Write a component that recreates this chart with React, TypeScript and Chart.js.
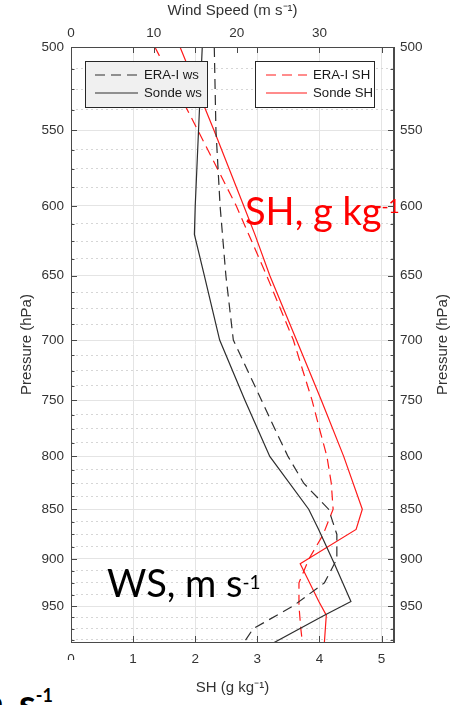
import React, { useEffect, useRef } from 'react';
import { Chart, registerables } from 'chart.js';

Chart.register(...registerables);

// ---- data ----
const eraPressure = [500, 550, 600, 650, 700, 750, 775, 800, 825, 850, 875, 900, 925, 950, 975, 1000];
const eraWS = [17.3, 17.5, 18.0, 18.7, 19.6, 23.0, 24.6, 26.2, 28.1, 31.1, 32.1, 32.1, 30.6, 26.8, 22.0, 20.2];
const eraSH = [1.35, 2.04, 2.66, 3.15, 3.58, 3.88, 4.0, 4.12, 4.19, 4.22, 4.06, 3.83, 3.67, 3.67, 3.7, 3.74];

const sondePressure = [500, 550, 600, 620, 650, 700, 750, 800, 850, 870, 905, 945, 960, 1000];
const sondeWS = [15.85, 15.4, 15.0, 14.9, 16.1, 17.95, 21.0, 24.0, 28.7, 29.9, 31.8, 33.8, 30.6, 22.7];
const sondeSH = [1.755, 2.3, 2.78, 2.96, 3.2, 3.63, 4.03, 4.39, 4.69, 4.59, 3.69, 3.99, 4.11, 4.07];

// ---- axes ----
const shTicks = [0, 1, 2, 3, 4, 5];
const wsTicks = [0, 10, 20, 30];
const pressureTicks = [500, 550, 600, 650, 700, 750, 800, 850, 900, 950];
const pressureMinorStep = 12.5;
const pressureRange = [500, 990];
const shRange = [0, 5.2];
const wsRange = [0, 39];

const FONT = "'Liberation Sans', Arial, Helvetica, sans-serif";
const axisColor = '#4a4a4a';
const labelColor = '#333333';
const gridColor = '#e4e4e4';
const minorGridColor = '#d6d6d6';
const black = '#2e2e2e';
const red = '#ff1a1a';
const dash = [10, 6];

const minorTicks: number[] = [];
for (let p = pressureRange[0]; p < pressureRange[1]; p += pressureMinorStep) {
  if (p % 50 !== 0) minorTicks.push(p);
}

const toPts = (xs: number[], ps: number[]) => xs.map((x, i) => ({ x, y: ps[i] }));

const decorPlugin = {
  id: 'decor',
  afterDraw(chart: any) {
    const { ctx, chartArea } = chart;
    const { left, right, top, bottom } = chartArea;
    const ys = chart.scales.y;
    const xs = chart.scales.x;
    const x2 = chart.scales.x2;
    ctx.save();
    ctx.strokeStyle = axisColor;
    ctx.lineWidth = 1;
    ctx.beginPath();
    const hl = (x1: number, y: number, x2p: number) => {
      const yy = Math.round(y) + 0.5;
      ctx.moveTo(x1, yy);
      ctx.lineTo(x2p, yy);
    };
    const vl = (x: number, y1: number, y2: number) => {
      const xx = Math.round(x) + 0.5;
      ctx.moveTo(xx, y1);
      ctx.lineTo(xx, y2);
    };
    pressureTicks.forEach((p) => {
      const py = ys.getPixelForValue(p);
      hl(left, py, left + 6);
      hl(right - 6, py, right);
    });
    minorTicks.forEach((p) => {
      const py = ys.getPixelForValue(p);
      hl(left, py, left + 3.5);
      hl(right - 3.5, py, right);
    });
    shTicks.forEach((v) => {
      const px = xs.getPixelForValue(v);
      vl(px, bottom, bottom - 6);
      vl(px, top, top + 6);
    });
    wsTicks.forEach((v) => {
      const px = x2.getPixelForValue(v);
      vl(px, top, top + 6);
    });
    ctx.stroke();
    ctx.strokeRect(Math.round(left) + 0.5, Math.round(top) + 0.5, Math.round(right - left) - 1, Math.round(bottom - top));

    // right axis title (reads bottom to top, like the left one)
    ctx.fillStyle = labelColor;
    ctx.font = `15px ${FONT}`;
    ctx.textAlign = 'center';
    ctx.textBaseline = 'middle';
    ctx.translate(443, (top + bottom) / 2);
    ctx.rotate(-Math.PI / 2);
    ctx.fillText('Pressure (hPa)', 0, 0);
    ctx.restore();

    // legends
    const ds = chart.data.datasets;
    const drawLegend = (bx: number, by: number, bw: number, bh: number, fill: string, items: any[], lx1: number, lx2: number, tx: number) => {
      ctx.save();
      ctx.fillStyle = fill;
      ctx.fillRect(bx, by, bw, bh);
      ctx.strokeStyle = '#262626';
      ctx.lineWidth = 1;
      ctx.strokeRect(Math.round(bx) + 0.5, Math.round(by) + 0.5, bw, bh);
      items.forEach((d: any, i: number) => {
        const ey = by + 14 + i * 18;
        ctx.strokeStyle = d.borderColor;
        ctx.lineWidth = 1.2;
        ctx.setLineDash(d.borderDash || []);
        ctx.beginPath();
        ctx.moveTo(bx + lx1, ey);
        ctx.lineTo(bx + lx2, ey);
        ctx.stroke();
        ctx.setLineDash([]);
        ctx.fillStyle = '#1a1a1a';
        ctx.font = `13.2px ${FONT}`;
        ctx.textAlign = 'left';
        ctx.textBaseline = 'middle';
        ctx.fillText(d.label, bx + tx, ey + 0.5);
      });
      ctx.restore();
    };
    drawLegend(left + 14, top + 14, 122, 46, '#f0f0f0', [ds[0], ds[1]], 10, 53, 59);
    drawLegend(right - 20 - 119, top + 14, 119, 46, '#ffffff', [ds[2], ds[3]], 11, 52, 58);
  },
};

export default function App() {
  const ref = useRef<HTMLCanvasElement>(null);
  useEffect(() => {
    const tickFont = { family: FONT, size: 13.5 };
    const titleFont = { family: FONT, size: 15 };
    const logY = (extra: any) => ({
      type: 'logarithmic',
      reverse: true,
      min: pressureRange[0],
      max: pressureRange[1],
      ...extra,
    });
    const chart = new Chart(ref.current as HTMLCanvasElement, {
      type: 'line',
      data: {
        datasets: [
          {
            label: 'ERA-I ws',
            data: toPts(eraWS, eraPressure),
            xAxisID: 'x2',
            yAxisID: 'y',
            borderColor: black,
            borderDash: dash,
            borderWidth: 1.2,
          },
          {
            label: 'Sonde ws',
            data: toPts(sondeWS, sondePressure),
            xAxisID: 'x2',
            yAxisID: 'y',
            borderColor: black,
            borderWidth: 1.2,
          },
          {
            label: 'ERA-I SH',
            data: toPts(eraSH, eraPressure),
            xAxisID: 'x',
            yAxisID: 'y',
            borderColor: red,
            borderDash: dash,
            borderWidth: 1.2,
          },
          {
            label: 'Sonde SH',
            data: toPts(sondeSH, sondePressure),
            xAxisID: 'x',
            yAxisID: 'y',
            borderColor: red,
            borderWidth: 1.2,
          },
        ],
      },
      options: {
        animation: false,
        responsive: false,
        indexAxis: 'y',
        layout: { padding: 0 },
        elements: { point: { radius: 0, hoverRadius: 0 }, line: { tension: 0 } },
        plugins: { legend: { display: false }, tooltip: { enabled: false } },
        events: [],
        scales: {
          x: {
            type: 'linear',
            position: 'bottom',
            min: shRange[0],
            max: shRange[1],
            afterBuildTicks: (s: any) => {
              s.ticks = shTicks.map((v) => ({ value: v }));
            },
            afterFit: (s: any) => {
              s.height = 63;
            },
            grid: { color: gridColor, drawTicks: false },
            border: { color: axisColor },
            ticks: { color: labelColor, font: tickFont, padding: 9, maxRotation: 0, autoSkip: false },
            title: { display: true, text: 'SH (g kg⁻¹)', color: labelColor, font: titleFont, padding: { top: 0, bottom: 8 } },
          },
          x2: {
            type: 'linear',
            position: 'top',
            min: wsRange[0],
            max: wsRange[1],
            afterBuildTicks: (s: any) => {
              s.ticks = wsTicks.map((v) => ({ value: v }));
            },
            afterFit: (s: any) => {
              s.height = 47;
            },
            grid: { drawOnChartArea: false, drawTicks: false },
            border: { color: axisColor },
            ticks: { color: labelColor, font: tickFont, padding: 6, maxRotation: 0, autoSkip: false },
            title: { display: true, text: 'Wind Speed (m s⁻¹)', color: labelColor, font: titleFont, padding: { top: 2, bottom: 0 } },
          },
          y: logY({
            position: 'left',
            afterBuildTicks: (s: any) => {
              s.ticks = pressureTicks.map((v) => ({ value: v }));
            },
            afterFit: (s: any) => {
              s.width = 71;
            },
            grid: { color: gridColor, drawTicks: false },
            border: { color: axisColor },
            ticks: { color: labelColor, font: tickFont, padding: 7, autoSkip: false, callback: (v: any) => String(v) },
            title: { display: true, text: 'Pressure (hPa)', color: labelColor, font: titleFont, padding: { top: 18, bottom: 0 } },
          }),
          yMinor: logY({
            position: 'left',
            afterBuildTicks: (s: any) => {
              s.ticks = minorTicks.map((v) => ({ value: v }));
            },
            afterFit: (s: any) => {
              s.width = 0;
            },
            grid: { color: minorGridColor, drawTicks: false, lineWidth: 1 },
            border: { display: false, dash: [2, 3] },
            ticks: { display: false },
          }),
          y2: logY({
            position: 'right',
            afterBuildTicks: (s: any) => {
              s.ticks = pressureTicks.map((v) => ({ value: v }));
            },
            afterFit: (s: any) => {
              s.width = 69;
            },
            grid: { drawOnChartArea: false, drawTicks: false },
            border: { color: axisColor },
            ticks: { color: labelColor, font: tickFont, padding: 6, autoSkip: false, callback: (v: any) => String(v) },
          }),
        },
      } as any,
      plugins: [decorPlugin],
    } as any);
    return () => chart.destroy();
  }, []);

  const big = { position: 'absolute' as const, fontFamily: 'Lato, sans-serif', fontSize: 38, lineHeight: '38px', whiteSpace: 'nowrap' as const };
  const sup = (raise: number, size: number) => ({ fontSize: size, position: 'relative' as const, top: -raise, verticalAlign: 'baseline' });

  return (
    <div style={{ position: 'absolute', left: 0, top: 0, width: 463, height: 705, overflow: 'hidden', background: '#fff' }}>
      <canvas ref={ref} width={463} height={705} style={{ display: 'block', width: 463, height: 705 }} />
      <div style={{ ...big, left: 245, top: 191, color: '#ff0000' }}>
        SH, g kg<span style={sup(12, 19)}>-1</span>
      </div>
      <div style={{ ...big, left: 107, top: 563, color: '#000' }}>
        WS, m s<span style={sup(8.5, 19)}>-1</span>
      </div>
      <div style={{ position: 'absolute', left: 0, top: 660, width: 78, height: 45, background: '#fff', overflow: 'hidden' }}>
        <div style={{ ...big, left: -28, top: 23, fontWeight: 700, color: '#000' }}>
          m <span style={{ marginLeft: 6 }}>s</span>
          <span style={sup(15, 18)}>-1</span>
        </div>
      </div>
    </div>
  );
}
